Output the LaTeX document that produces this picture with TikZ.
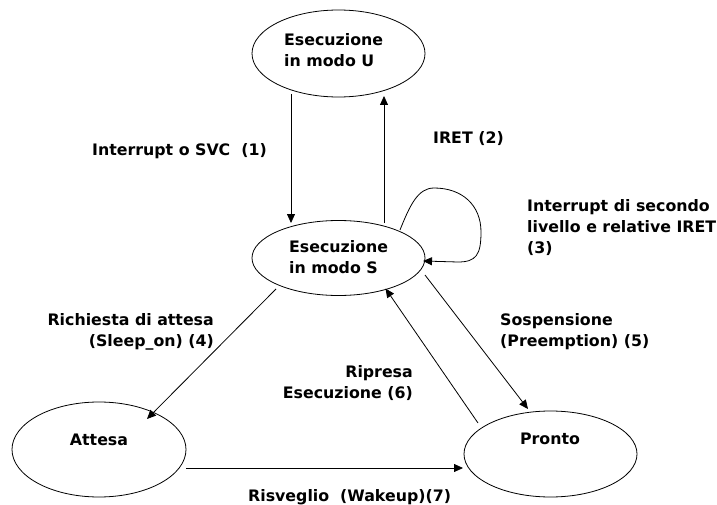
\documentclass[tikz,border=0pt]{standalone}
\usepackage{fontspec}
\setmainfont{DejaVu Sans}
\usetikzlibrary{shapes.geometric,arrows.meta,calc}
\begin{document}
\begin{tikzpicture}[x=1pt,y=-1pt,
  state/.style={draw,ellipse,line width=0.8pt,inner sep=0pt},
  txt/.style={inner sep=0pt,font=\fontsize{15.8}{21}\selectfont\bfseries},
  arr/.style={draw,line width=0.8pt,-{Triangle[length=9pt,width=8pt]}}]
\useasboundingbox (0,0) rectangle (717,505);

% states
\node[state,minimum width=173pt,minimum height=87pt] (U) at (338.5,53.5) {};
\node[state,minimum width=173pt,minimum height=75pt] (S) at (338.5,258) {};
\node[state,minimum width=174pt,minimum height=95pt] (A) at (99,449.5) {};
\node[state,minimum width=173pt,minimum height=86pt] (P) at (550.5,454) {};

% state names
\node[txt,anchor=west,align=left] (tU) at (284,50.5) {Esecuzione\\in modo U};
\node[txt,anchor=west,align=left] (tS) at (289,257.5) {Esecuzione\\in modo S};
\node[txt] (tA) at (99,440) {Attesa};
\node[txt] (tP) at (550,439) {Pronto};

% transitions
\draw[arr] ($(U.center)+(-47.5,40.5)$) -- ($(S.center)+(-47.5,-35)$);
\draw[arr] ($(S.center)+(45.5,-35)$) -- ($(U.center)+(45.5,42.5)$);
\draw[arr] ($(S.center)+(61.5,-28)$)
  .. controls (410,205) and (418,188) .. (434,188)
  .. controls (462,188) and (481,205) .. (481,232)
  .. controls (481,255) and (476,262) .. (458,262)
  -- ($(S.center)+(84.5,3)$);
\draw[arr] ($(S.center)+(-62.5,31)$) -- ($(A.center)+(48,-30.5)$);
\draw[arr] ($(S.center)+(86.5,17)$) -- ($(P.center)+(-22.5,-45)$);
\draw[arr] ($(P.center)+(-72.5,-31)$) -- ($(S.center)+(47,30.5)$);
\draw[arr] ($(A.center)+(87,18.5)$) -- ($(P.center)+(-87.5,14)$);

% transition labels
\node[txt,anchor=west] (l1) at (92,151) {Interrupt o SVC~ (1)};
\node[txt,anchor=west] (l2) at (433,139) {IRET (2)};
\node[txt,anchor=west,align=left] (l3) at (527,228) {Interrupt di secondo\\livello e relative IRET\\(3)};
\node[txt,anchor=east,align=right] (l4) at (214,331.5) {Richiesta di attesa\\(Sleep\_on) (4)};
\node[txt,anchor=west,align=left] (l5) at (500,331.5) {Sospensione\\(Preemption) (5)};
\node[txt,anchor=east,align=right] (l6) at (413,383.5) {Ripresa\\Esecuzione (6)};
\node[txt,anchor=west] (l7) at (248,497) {Risveglio~ (Wakeup)(7)};
\end{tikzpicture}
\end{document}
